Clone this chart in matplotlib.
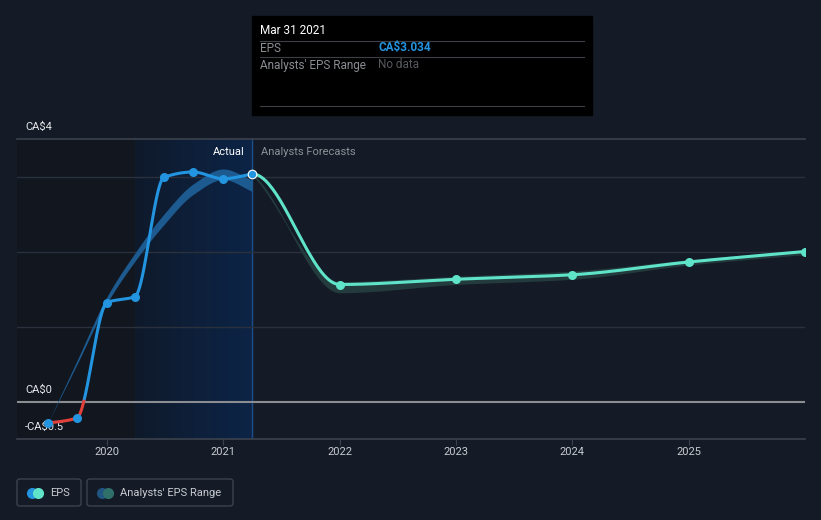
import numpy as np
import matplotlib.pyplot as plt
from matplotlib.patches import FancyBboxPatch, Rectangle
from matplotlib.colors import LinearSegmentedColormap

plt.rcParams['font.family'] = ['Roboto', 'DejaVu Sans']

# actual EPS (quarter ends, fractional years)
eps_dates = [2019.49, 2019.74, 2020.0, 2020.24, 2020.49, 2020.74, 2021.0, 2021.25]
eps_vals = [-0.29, -0.22, 1.32, 1.40, 2.99, 3.06, 2.97, 3.034]

# analyst forecasts
fc_dates = [2021.25, 2022.0, 2023.0, 2024.0, 2025.0, 2026.0]
fc_vals = [3.034, 1.56, 1.63, 1.69, 1.86, 2.00]
fc_low = [3.034, 1.47, 1.58, 1.65, 1.84, 1.98]
fc_high = [3.034, 1.60, 1.67, 1.74, 1.89, 2.02]

# past estimates band
band_dates = [2019.49, 2019.74, 2020.0, 2020.24, 2020.49, 2020.74, 2021.0, 2021.25]
band_low = [-0.29, 0.49, 1.31, 1.87, 2.36, 2.76, 2.96, 2.80]
band_high = [-0.29, 0.54, 1.40, 1.98, 2.50, 2.90, 3.10, 2.95]

years = [2020, 2021, 2022, 2023, 2024, 2025]

BG = '#151b26'


def smooth(x, y, n=300, start_slope=None):
    # monotone cubic hermite, just for drawing
    x = np.asarray(x, float)
    y = np.asarray(y, float)
    h = np.diff(x)
    d = np.diff(y) / h
    m = np.zeros_like(y)
    m[0], m[-1] = d[0], d[-1]
    if start_slope is not None:
        m[0] = start_slope
    for i in range(1, len(y) - 1):
        if d[i - 1] * d[i] <= 0:
            m[i] = 0
        else:
            w1 = 2 * h[i] + h[i - 1]
            w2 = h[i] + 2 * h[i - 1]
            m[i] = (w1 + w2) / (w1 / d[i - 1] + w2 / d[i])
    xs = np.linspace(x[0], x[-1], n)
    k = np.clip(np.searchsorted(x, xs) - 1, 0, len(x) - 2)
    t = (xs - x[k]) / h[k]
    h00 = 2 * t**3 - 3 * t**2 + 1
    h10 = t**3 - 2 * t**2 + t
    h01 = -2 * t**3 + 3 * t**2
    h11 = t**3 - t**2
    ys = h00 * y[k] + h10 * h[k] * m[k] + h01 * y[k + 1] + h11 * h[k] * m[k + 1]
    return xs, ys


fig = plt.figure(figsize=(8.21, 5.2), dpi=100, facecolor=BG)
W, H = 821, 520
ax = fig.add_axes([17 / W, (H - 439) / H, (805 - 17) / W, (439 - 139) / H])
ax.set_facecolor(BG)
x0, x1 = 2019.226, 2026.0
y0, y1 = -0.5, 3.5
ax.set_xlim(x0, x1)
ax.set_ylim(y0, y1)

# shaded past regions
ax.axvspan(x0, 2020.24, color='#11161f', zorder=0, lw=0)
grad = np.linspace(0, 1, 100).reshape(1, -1)
cm = LinearSegmentedColormap.from_list('g', ['#0f1a2b', '#0c2447'])
ax.imshow(grad, extent=[2020.24, 2021.25, y0, y1], aspect='auto', cmap=cm, zorder=0)
ax.axvline(2021.25, color='#1c4f8a', lw=1, zorder=1)

# grid
for g in [1, 2, 3]:
    ax.axhline(g, color='#2a313c', lw=1, zorder=1)
ax.axhline(0, color='#8a8d92', lw=1.5, zorder=2)
ax.axhline(y1, color='#3b424d', lw=1.2, zorder=2, clip_on=False)
ax.axhline(y0, color='#3b424d', lw=1.2, zorder=2, clip_on=False)

for s in ax.spines.values():
    s.set_visible(False)
ax.set_yticks([])
ax.set_xticks(years)
ax.set_xticklabels([str(y) for y in years], color='#c8cbd0', fontsize=8)
ax.tick_params(axis='x', length=4, width=0.8, color='#3b424d', pad=2)

# past estimate band
bx, bl = smooth(band_dates, band_low)
_, bh = smooth(band_dates, band_high)
ax.fill_between(bx, bl, bh, color='#1c5a8f', lw=0, zorder=3)

# forecast band (drops steeper than the line)
fx, fl = smooth(fc_dates, fc_low, start_slope=-1.2)
_, fh = smooth(fc_dates, fc_high, start_slope=-1.6)
ax.fill_between(fx, np.minimum(fl, fh) - 0.02, np.maximum(fl, fh), color='#233b3d',
                lw=0, zorder=3)

# EPS line, red below zero
ex, ey = smooth(eps_dates, eps_vals, 500)
ax.plot(ex, np.where(ey >= 0, ey, np.nan), color='#2394df', lw=2.2, zorder=5)
neg = ey < 0.02
ax.plot(ex[neg], ey[neg], color='#e0413a', lw=2.2, zorder=5)
ax.scatter(eps_dates[:-1], eps_vals[:-1], s=30, color='#2394df', zorder=6)
ax.scatter(eps_dates[-1:], eps_vals[-1:], s=38, color='#2394df',
           edgecolor='white', linewidth=0.8, zorder=7)

# forecast line
fcx, fcy = smooth(fc_dates, fc_vals, start_slope=0.0)
ax.plot(fcx, fcy, color='#5fe3c9', lw=2.2, zorder=4)
ax.scatter(fc_dates[1:], fc_vals[1:], s=30, color='#5fe3c9', zorder=6)

# labels in axes
ax.text(2021.18, 3.33, 'Actual', color='white', fontsize=8, ha='right', va='center')
ax.text(2021.32, 3.33, 'Analysts Forecasts', color='#8c9097', fontsize=8,
        ha='left', va='center')
ax.text(x0 + 0.07, 3.66, 'CA$4', color='#e6e8eb', fontsize=8, va='center',
        clip_on=False)
ax.text(x0 + 0.07, 0.16, 'CA$0', color='#e6e8eb', fontsize=8, va='center')
ax.text(x0 + 0.07, -0.34, '-CA$0.5', color='#e6e8eb', fontsize=8, va='center',
        zorder=4)

# tooltip box
fig.patches.append(Rectangle((252 / W, (H - 115) / H), 340 / W, 99 / H,
                             transform=fig.transFigure, color='black', zorder=10))
for yy in [41, 57, 106]:
    fig.add_artist(plt.Line2D([260 / W, 584 / W], [(H - yy) / H] * 2,
                              color='#3c3f44', lw=0.8, zorder=11))
fig.text(260 / W, (H - 31) / H, 'Mar 31 2021', color='white', fontsize=8.5,
         va='center', zorder=12)
fig.text(260 / W, (H - 48) / H, 'EPS', color='#8a8d92', fontsize=8.5,
         va='center', zorder=12)
fig.text(378 / W, (H - 48) / H, 'CA$3.034', color='#2394df', fontsize=8.5,
         fontweight='bold', va='center', zorder=12)
fig.text(260 / W, (H - 65) / H, "Analysts' EPS Range", color='#8a8d92',
         fontsize=8.5, va='center', zorder=12)
fig.text(378 / W, (H - 65) / H, 'No data', color='#55585d', fontsize=8.5,
         va='center', zorder=12)

# legend
def legend_box(x, w, c1, c2, label):
    fig.patches.append(FancyBboxPatch((x / W, (H - 506) / H), w / W, 27 / H,
                                      boxstyle='round,pad=0,rounding_size=0.004',
                                      transform=fig.transFigure, fc=BG,
                                      ec='#3d434d', lw=1))
    cy = (H - 492.5) / H
    fig.add_artist(plt.Line2D([(x + 15) / W], [cy], marker='o', ms=8,
                              color=c1, mec='none'))
    fig.add_artist(plt.Line2D([(x + 21) / W], [cy], marker='o', ms=8,
                              color=c2, mec='none'))
    fig.text((x + 33) / W, cy, label, color='#c8cbd0', fontsize=8, va='center')


legend_box(17, 64, '#2394df', '#5fe3c9', 'EPS')
legend_box(87, 146, '#1f5580', '#2f706b', "Analysts' EPS Range")

fig.savefig('out.png', dpi=100, facecolor=BG)
